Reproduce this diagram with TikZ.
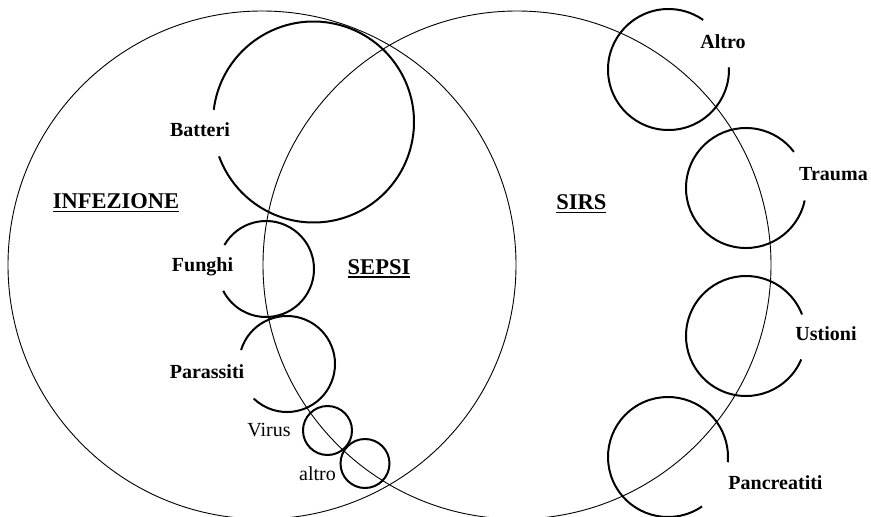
\documentclass[tikz,border=0pt]{standalone}
\usepackage{fontspec}
\setmainfont{Liberation Serif}
\newcommand\myul[1]{\setbox0\hbox{#1}\rlap{\rule[-3.6pt]{\wd0}{1.3pt}}\box0}
\tikzset{
  big/.style={line width=0.9pt, draw=black},
  sub/.style={line width=2pt, draw=black},
  head/.style={inner sep=0pt, anchor=base, font=\fontsize{22.5}{26}\selectfont\bfseries},
  lab/.style={inner sep=0pt, anchor=base, font=\fontsize{20}{24}\selectfont\bfseries},
  labr/.style={inner sep=0pt, anchor=base, font=\fontsize{20}{24}\selectfont},
}
\begin{document}
\begin{tikzpicture}[x=1pt,y=-1pt]
\useasboundingbox (0,0) rectangle (871,517);
\clip (0,0) rectangle (871,517);
\fill[white] (0,0) rectangle (871,517);
% large sets
\draw[big] (262,265) circle[radius=254];
\draw[big] (517,265) circle[radius=254];
% infection sub-arcs (gap on the left)
\draw[sub] (313.5,122) ++(-173:100.5) arc[start angle=-173, end angle=160, radius=100.5];
\draw[sub] (266,269) ++(-150:48) arc[start angle=-150, end angle=153, radius=48];
\draw[sub] (287,364) ++(-163:48) arc[start angle=-163, end angle=134, radius=48];
\draw[sub] (327.5,430.5) circle[radius=24.5];
\draw[sub] (365,463.5) circle[radius=24.5];
% SIRS sub-arcs (gap on the right)
\draw[sub] (668.5,69.5) ++(-2:60.5) arc[start angle=-2, end angle=305, radius=60.5];
\draw[sub] (746,188) ++(12:60) arc[start angle=12, end angle=323, radius=60];
\draw[sub] (746,336) ++(23:60) arc[start angle=23, end angle=339, radius=60];
\draw[sub] (668,457) ++(-304.5:60) arc[start angle=-304.5, end angle=5, radius=60];
% labels
\node[head] (inf) at (116,208.3) {\myul{INFEZIONE}};
\node[head] (sirs) at (581.4,209.3) {\myul{SIRS}};
\node[head] (sepsi) at (379,274) {\myul{SEPSI}};
\node[lab] (batteri) at (200,136) {Batteri};
\node[lab] (funghi) at (202.5,271.7) {Funghi};
\node[lab] (parassiti) at (207,378) {Parassiti};
\node[labr] (virus) at (269,436.7) {Virus};
\node[labr] (altrol) at (317.5,480) {altro};
\node[lab] (altro) at (723,48.3) {Altro};
\node[lab] (trauma) at (833.5,180) {Trauma};
\node[lab] (ustioni) at (826,340.7) {Ustioni};
\node[lab] (pancr) at (775.5,489) {Pancreatiti};
\end{tikzpicture}
\end{document}
